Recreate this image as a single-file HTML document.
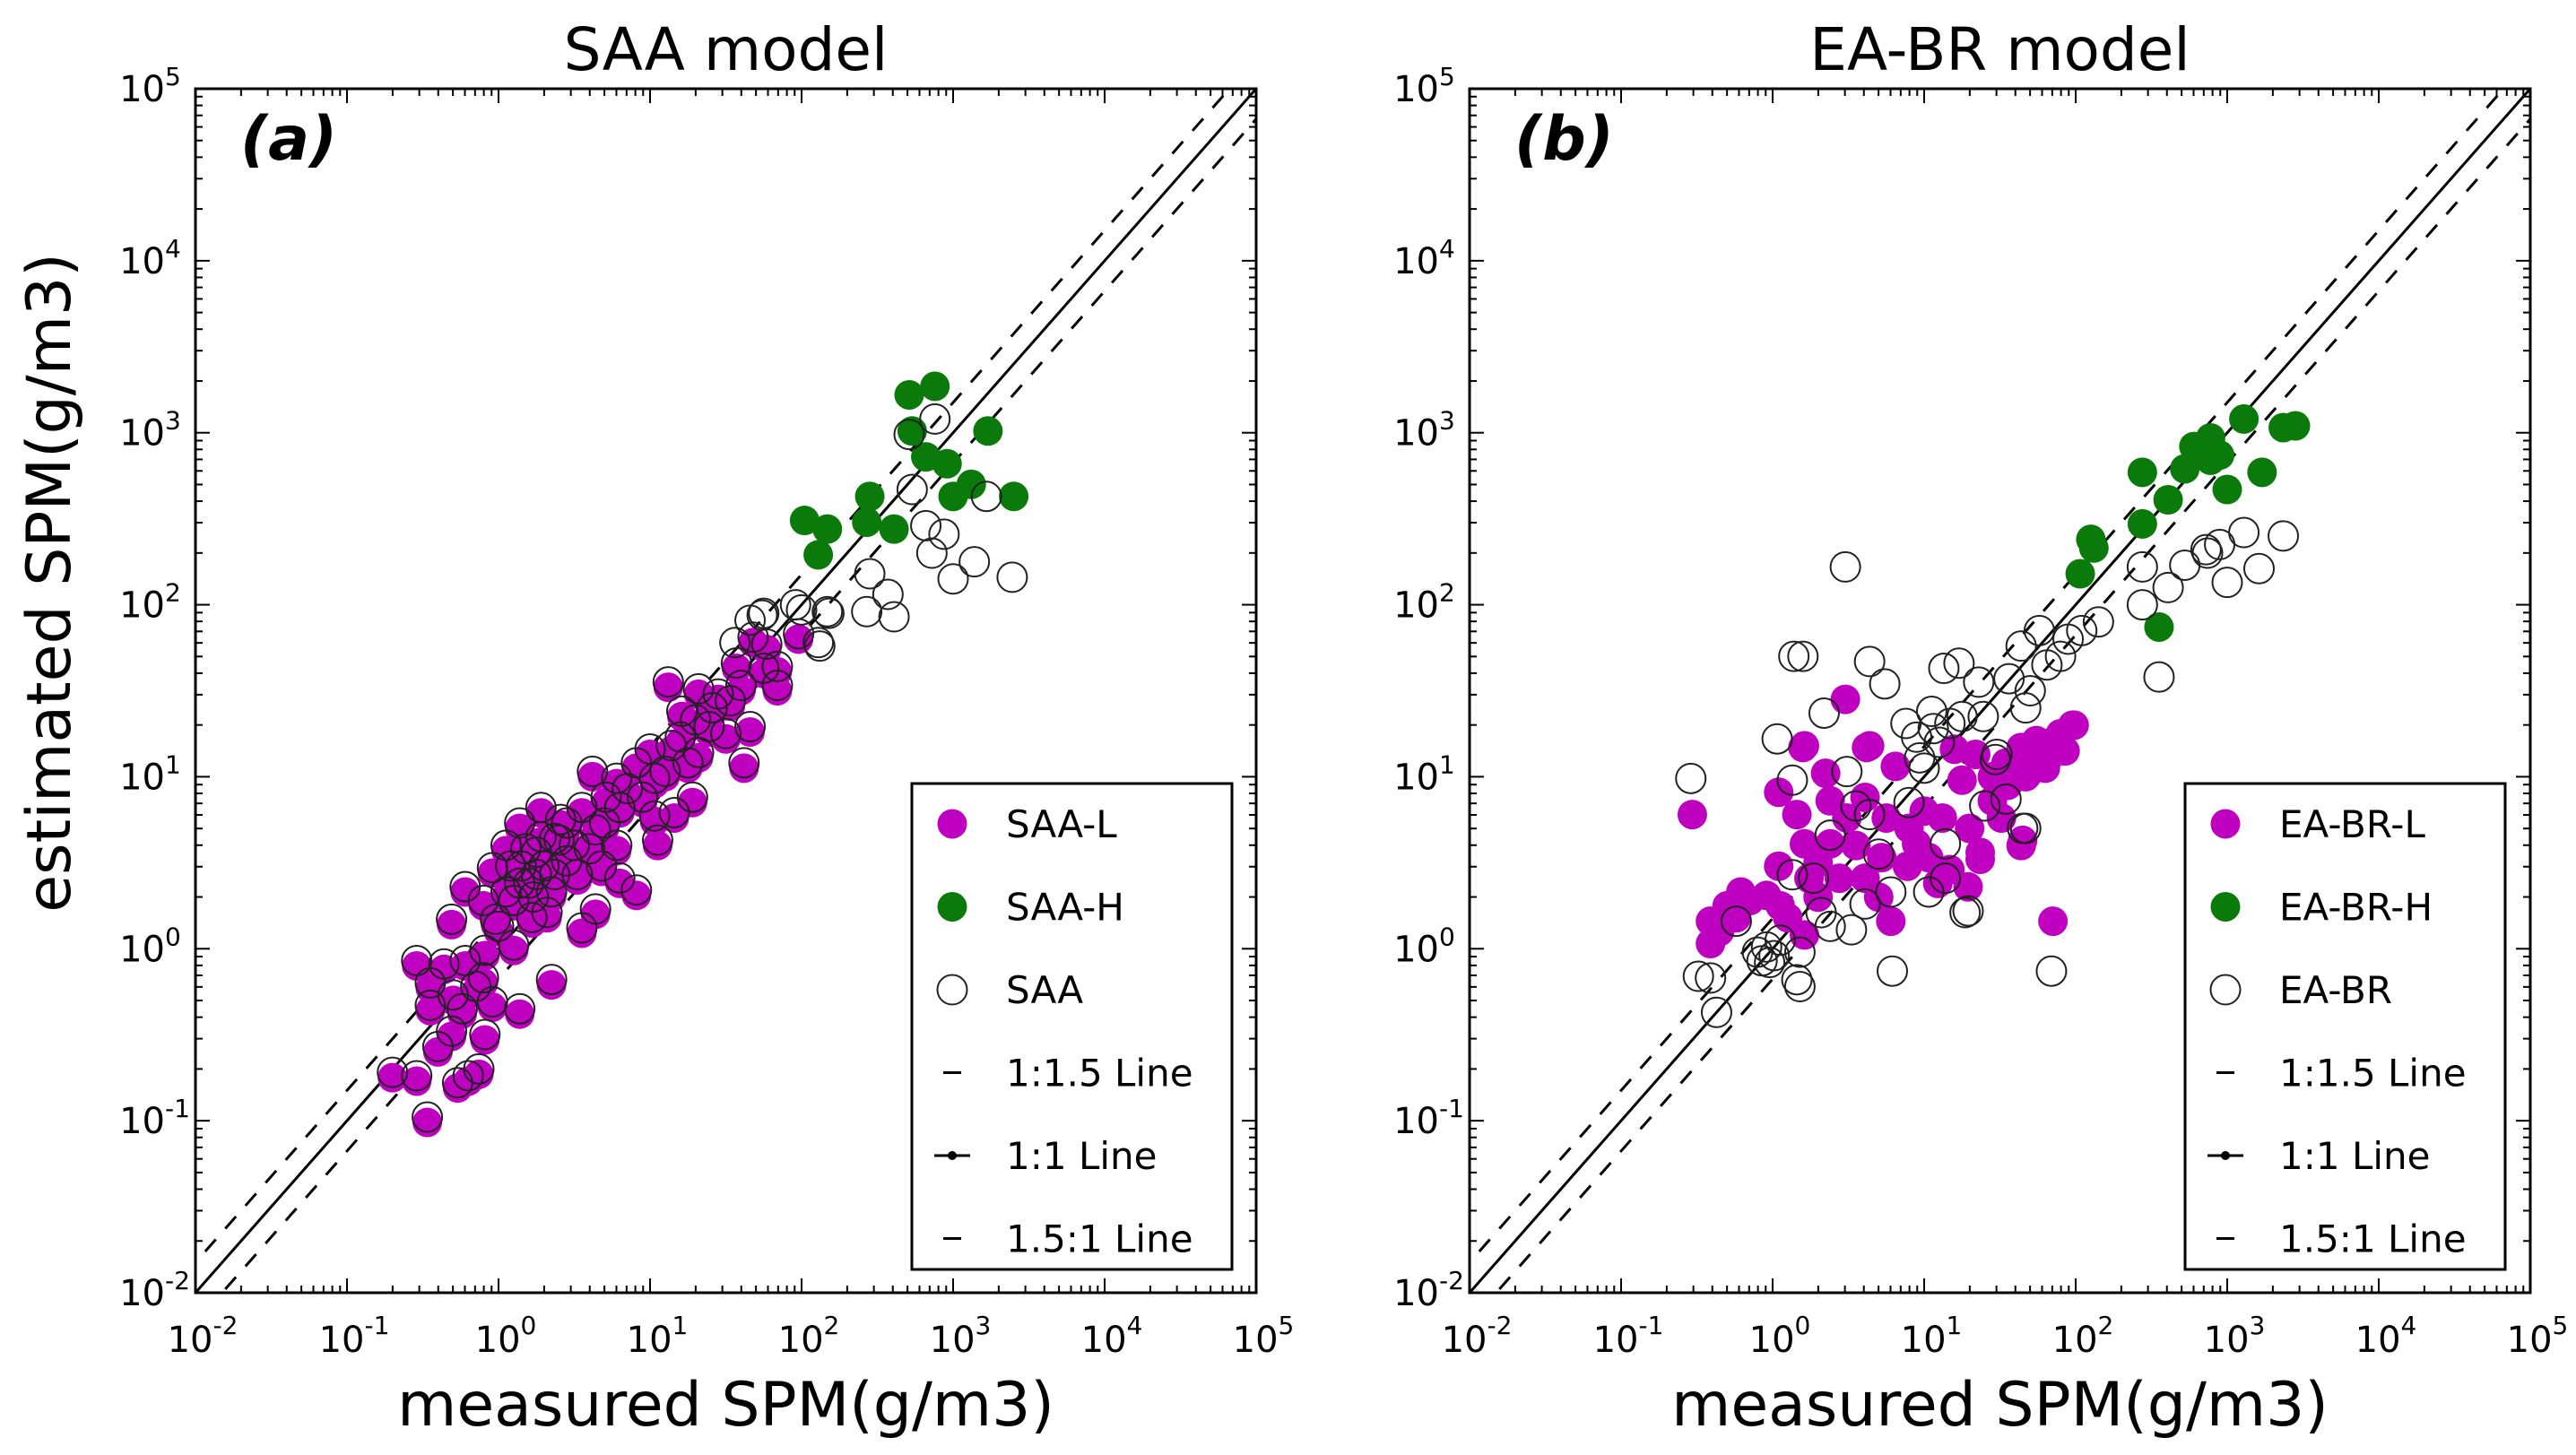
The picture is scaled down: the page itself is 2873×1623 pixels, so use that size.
<!DOCTYPE html>
<html><head><meta charset="utf-8"><style>
html,body{margin:0;padding:0;background:#fff}
svg{display:block}
text{font-family:"DejaVu Sans","Liberation Sans",sans-serif;fill:#000}
</style></head><body>
<svg id="chart" width="2873" height="1623" viewBox="0 0 2873 1623" xmlns="http://www.w3.org/2000/svg"></svg>
<script>
// log10 values [measured, estimated]
const saaH = [[2.71,3.22],[2.88,3.27],[2.73,3.01],[3.23,3.01],[2.82,2.86],[2.96,2.82],[3.12,2.70],[3.00,2.63],[3.40,2.63],[2.45,2.63],[2.43,2.48],[2.61,2.44],[2.02,2.49],[2.17,2.44],[2.11,2.29]];
const saaOpen = [[2.88,3.08],[2.71,2.99],[2.73,2.67],[3.22,2.63],[2.82,2.46],[2.94,2.41],[2.86,2.30],[3.14,2.25],[3.00,2.15],[3.39,2.16],[2.45,2.18],[2.57,2.06],[2.43,1.96],[2.61,1.93],[2.17,1.96],[2.12,1.76],[2.00,1.97],[1.74,1.94],[1.56,1.78],[1.66,1.91],[1.96,2.00],[2.18,1.95],[2.11,1.78],[1.75,1.95]];
const saaL = [[-0.47,-1.01],[-0.70,-0.75],[-0.54,-0.77],[-0.20,-0.77],[-0.27,-0.81],[-0.13,-0.73],[-0.31,-0.51],[-0.09,-0.53],[-0.24,-0.38],[-0.04,-0.34],[0.14,-0.38],[-0.45,-0.36],[-0.45,-0.23],[-0.54,-0.10],[-0.36,-0.12],[-0.22,-0.10],[-0.15,-0.25],[0.35,-0.21],[-0.31,0.14],[-0.22,0.33],[-0.09,-0.04],[0.10,-0.01],[-0.02,0.14],[-0.04,0.44],[0.14,0.35],[0.23,0.27],[0.32,0.18],[0.14,0.70],[0.25,0.53],[0.37,0.40],[0.50,0.57],[0.41,0.72],[0.55,0.79],[0.64,0.66],[0.55,0.09],[0.64,0.20],[0.80,0.38],[0.91,0.31],[0.78,0.57],[0.62,1.00],[0.71,0.85],[0.80,0.79],[0.78,0.96],[1.03,0.74],[1.16,0.76],[1.28,0.85],[0.91,1.05],[1.03,0.96],[1.14,1.15],[1.00,1.13],[1.12,1.52],[1.32,1.48],[1.21,1.35],[1.39,1.26],[1.50,1.22],[1.62,1.05],[1.66,1.26],[1.53,1.41],[1.41,1.37],[1.57,1.63],[1.68,1.78],[1.84,1.61],[1.84,1.50],[1.98,1.80],[1.77,1.74],[1.32,1.11],[0.37,0.61],[0.05,0.57],[0.28,0.79],[0.25,0.40],[0.30,0.45],[0.20,0.35],[0.35,0.30],[0.45,0.48],[0.10,0.25],[0.18,0.55],[0.05,0.30],[0.40,0.60],[0.00,0.10],[0.15,0.45],[0.28,0.62],[0.45,0.70],[0.52,0.40],[0.60,0.55],[0.70,0.70],[0.85,0.90],[0.95,0.85],[1.10,1.00],[1.20,1.20],[1.30,1.30],[1.45,1.45],[1.60,1.50],[1.75,1.60],[0.08,0.45],[0.22,0.15],[-0.10,0.25],[-0.30,-0.30],[-0.40,-0.60],[-0.10,-0.20],[0.68,0.45],[1.05,0.60],[1.25,1.05]];
const eaH = [[3.11,3.08],[3.37,3.03],[2.89,2.97],[2.78,2.92],[2.95,2.87],[2.72,2.79],[2.44,2.77],[3.23,2.77],[3.00,2.67],[2.61,2.61],[2.44,2.47],[2.12,2.33],[2.03,2.18],[2.55,1.87],[2.89,2.84],[3.45,3.04],[2.10,2.38]];
const eaOpen = [[0.48,2.22],[0.14,1.70],[0.20,1.70],[0.64,1.67],[0.74,1.54],[0.34,1.37],[0.03,1.22],[-0.54,0.99],[1.13,1.63],[1.23,1.66],[0.88,1.31],[1.05,1.38],[1.36,1.55],[1.64,1.76],[1.76,1.85],[1.90,1.70],[2.04,1.85],[2.15,1.90],[1.70,1.50],[1.56,1.57],[1.67,1.40],[2.44,2.22],[2.44,2.00],[2.61,2.10],[2.72,2.23],[2.86,2.32],[3.11,2.42],[3.21,2.21],[3.00,2.13],[3.37,2.40],[2.55,1.58],[1.81,1.65],[1.95,1.80],[1.39,1.35],[1.47,1.10],[1.67,0.70],[1.27,0.21],[0.79,-0.13],[1.84,-0.13],[0.13,0.98],[0.49,1.03],[0.97,1.11],[1.48,1.13],[1.54,0.87],[1.65,0.70],[1.40,0.83],[1.14,0.61],[1.14,0.41],[1.03,0.33],[1.29,0.22],[0.78,0.33],[0.61,0.26],[0.52,0.11],[0.38,0.13],[0.32,0.21],[0.13,0.43],[0.27,0.41],[0.38,0.66],[-0.24,0.16],[-0.10,-0.02],[-0.04,0.01],[0.01,-0.04],[-0.07,-0.07],[0.18,-0.02],[0.18,-0.22],[0.16,-0.18],[-0.41,-0.17],[-0.37,-0.37],[-0.49,-0.16],[0.55,0.83],[0.64,0.78],[0.95,1.23],[1.06,1.28],[1.17,1.31],[2.87,2.30],[2.95,2.35],[1.00,1.05],[1.10,1.20],[1.25,1.35],[0.90,0.85],[0.70,0.55],[0.05,0.05],[-0.02,-0.08]];
const eaL = [[-0.53,0.78],[0.21,1.18],[0.64,1.18],[1.99,1.30],[1.74,1.21],[1.82,1.11],[1.68,1.01],[1.54,1.08],[1.34,1.13],[1.20,1.16],[1.25,0.98],[1.45,0.86],[1.65,0.63],[1.37,0.56],[1.12,0.76],[0.95,0.61],[1.09,0.38],[1.29,0.36],[0.78,0.16],[1.85,0.16],[0.35,1.02],[0.04,0.91],[0.16,0.78],[0.38,0.86],[0.21,0.61],[0.38,0.61],[0.61,0.88],[0.81,1.06],[0.49,0.76],[0.75,0.76],[0.04,0.48],[0.24,0.41],[0.44,0.41],[0.61,0.41],[0.72,0.53],[-0.21,0.33],[-0.04,0.31],[-0.41,0.16],[-0.41,0.03],[-0.24,0.18],[0.10,0.18],[0.21,0.08],[0.89,0.48],[1.03,0.53],[1.17,0.46],[1.51,0.76],[0.48,1.45],[1.98,1.30],[1.73,1.05],[1.84,1.20],[1.64,1.17],[1.93,1.15],[1.67,1.00],[1.37,0.52],[1.64,0.60],[0.20,1.17],[0.62,1.17],[1.55,0.95],[1.75,1.15],[1.90,1.25],[1.60,1.05],[1.45,1.00],[0.90,0.70],[0.55,0.60],[0.30,0.50],[-0.30,0.25],[-0.15,0.28],[0.70,0.30],[1.00,0.80],[1.30,0.70],[1.80,1.05],[-0.35,0.10],[0.05,0.25],[0.30,0.30]];
const tickExps = [-2,-1,0,1,2,3,4,5];
const legendLabelsA = ["SAA-L","SAA-H","SAA","1:1.5 Line","1:1 Line","1.5:1 Line"];
const legendLabelsB = ["EA-BR-L","EA-BR-H","EA-BR","1:1.5 Line","1:1 Line","1.5:1 Line"];
const titles = ["SAA model","EA-BR model"];
const panelTags = ["(a)","(b)"];

const NS="http://www.w3.org/2000/svg";
const svg=document.getElementById('chart');
function mk(tag,attrs,parent){const e=document.createElementNS(NS,tag);for(const k in attrs)e.setAttribute(k,attrs[k]);(parent||svg).appendChild(e);return e;}
const T=99,B=1442,W=1183,LO=-2,HI=5;
const R=16.5;
function panel(px,L,H,O,legend,title,tag,idx,legX,ringL){
  const g=mk('g',{});
  
  
  const sx=v=>px+(v-LO)/(HI-LO)*W;
  const sy=v=>B-(v-LO)/(HI-LO)*(B-T);
  const clipId='clip'+idx;
  const cp=mk('clipPath',{id:clipId},g);mk('rect',{x:px,y:T,width:W,height:B-T},cp);
  const pg=mk('g',{'clip-path':'url(#'+clipId+')'},g);
  const off=Math.log10(1.5);
  [[off,'18,16'],[0,''],[-off,'18,16']].forEach((d,i)=>{
    const l=mk('line',{x1:sx(LO-1),y1:sy(LO-1+d[0]),x2:sx(HI+1),y2:sy(HI+1+d[0]),stroke:'#000','stroke-width':3,'stroke-dasharray':d[1]},pg);
    
    
  });
  L.forEach(p=>{const c=mk('circle',{cx:sx(p[0]),cy:sy(p[1]),r:R,fill:'#c000c0'},pg);
    
    });
  if(ringL){L.forEach(p=>{const c=mk('circle',{cx:sx(p[0]),cy:sy(p[1])-6,r:R,fill:'none',stroke:'#222','stroke-width':2},pg);
    
    });}
  H.forEach(p=>{const c=mk('circle',{cx:sx(p[0]),cy:sy(p[1]),r:R,fill:'#0a7a0a'},pg);
    
    });
  O.forEach(p=>{const c=mk('circle',{cx:sx(p[0]),cy:sy(p[1]),r:R,fill:'none',stroke:'#222','stroke-width':2},pg);
    
    });
  for(let e=LO;e<=HI;e++){
    for(let m=1;m<10;m++){
      const v=e+Math.log10(m); if(v>HI)break;
      const len=m===1?16:8;
      const X=sx(v),Y=sy(v);
      mk('line',{x1:X,y1:B,x2:X,y2:B-len,stroke:'#000','stroke-width':2},g);
      mk('line',{x1:X,y1:T,x2:X,y2:T+len,stroke:'#000','stroke-width':2},g);
      mk('line',{x1:px,y1:Y,x2:px+len,y2:Y,stroke:'#000','stroke-width':2},g);
      mk('line',{x1:px+W,y1:Y,x2:px+W-len,y2:Y,stroke:'#000','stroke-width':2},g);
    }
  }
  tickExps.forEach(e=>{
    const t=mk('text',{x:sx(e)+8,y:1508,'font-size':40,'text-anchor':'middle'},g);
    t.innerHTML='10<tspan dy="-20" font-size="28">'+(e<0?'-'+(-e):e)+'</tspan>';
    
    
    const u=mk('text',{x:px-34,y:sy(e)+14,'font-size':40,'text-anchor':'end'},g);
    u.textContent='10';
    
    
    const s=mk('text',{x:px-34,y:sy(e)-4,'font-size':28,'text-anchor':'start'},g);
    s.textContent=(e<0?'-'+(-e):e);
    
    
  });
  mk('rect',{x:px,y:T,width:W,height:B-T,fill:'none',stroke:'#000','stroke-width':3},g);
  const tt=mk('text',{x:px+W/2,y:78,'font-size':66,'text-anchor':'middle'},g);tt.textContent=title;
  
  
  const tg=mk('text',{x:px+50,y:178,'font-size':68,'font-weight':'bold','font-style':'italic'},g);tg.textContent=tag;
  
  
  const xl=mk('text',{x:px+W/2,y:1590,'font-size':68,'text-anchor':'middle'},g);xl.textContent='measured SPM(g/m3)';
  
  
  const lg=mk('g',{},g);
  
  
  const lx=legX,ly=874,lw=357,lh=542;
  mk('rect',{x:lx,y:ly,width:lw,height:lh,fill:'#fff',stroke:'#000','stroke-width':3},lg);
  legend.forEach((lab,i)=>{
    const cy=ly+45+i*92.5, mx=lx+45;
    if(i===0)mk('circle',{cx:mx,cy:cy,r:R,fill:'#c000c0'},lg);
    if(i===1)mk('circle',{cx:mx,cy:cy,r:R,fill:'#0a7a0a'},lg);
    if(i===2)mk('circle',{cx:mx,cy:cy,r:R,fill:'none',stroke:'#222','stroke-width':2},lg);
    if(i===3||i===5)mk('line',{x1:mx-10,y1:cy,x2:mx+10,y2:cy,stroke:'#000','stroke-width':3},lg);
    if(i===4){mk('line',{x1:mx-20,y1:cy,x2:mx+20,y2:cy,stroke:'#000','stroke-width':3},lg);mk('circle',{cx:mx,cy:cy,r:5,fill:'#000'},lg);}
    const t=mk('text',{x:lx+105,y:cy+15,'font-size':42},lg);t.textContent=lab;
    
    
  });
}
panel(218,saaL,saaH,saaOpen,legendLabelsA,titles[0],panelTags[0],0,1017,true);
panel(1639,eaL,eaH,eaOpen,legendLabelsB,titles[1],panelTags[1],1,2437,false);
const yl=mk('text',{x:0,y:0,'font-size':68,'text-anchor':'middle',transform:'translate(78,650) rotate(-90)'});
yl.textContent='estimated SPM(g/m3)';


</script>
</body></html>
